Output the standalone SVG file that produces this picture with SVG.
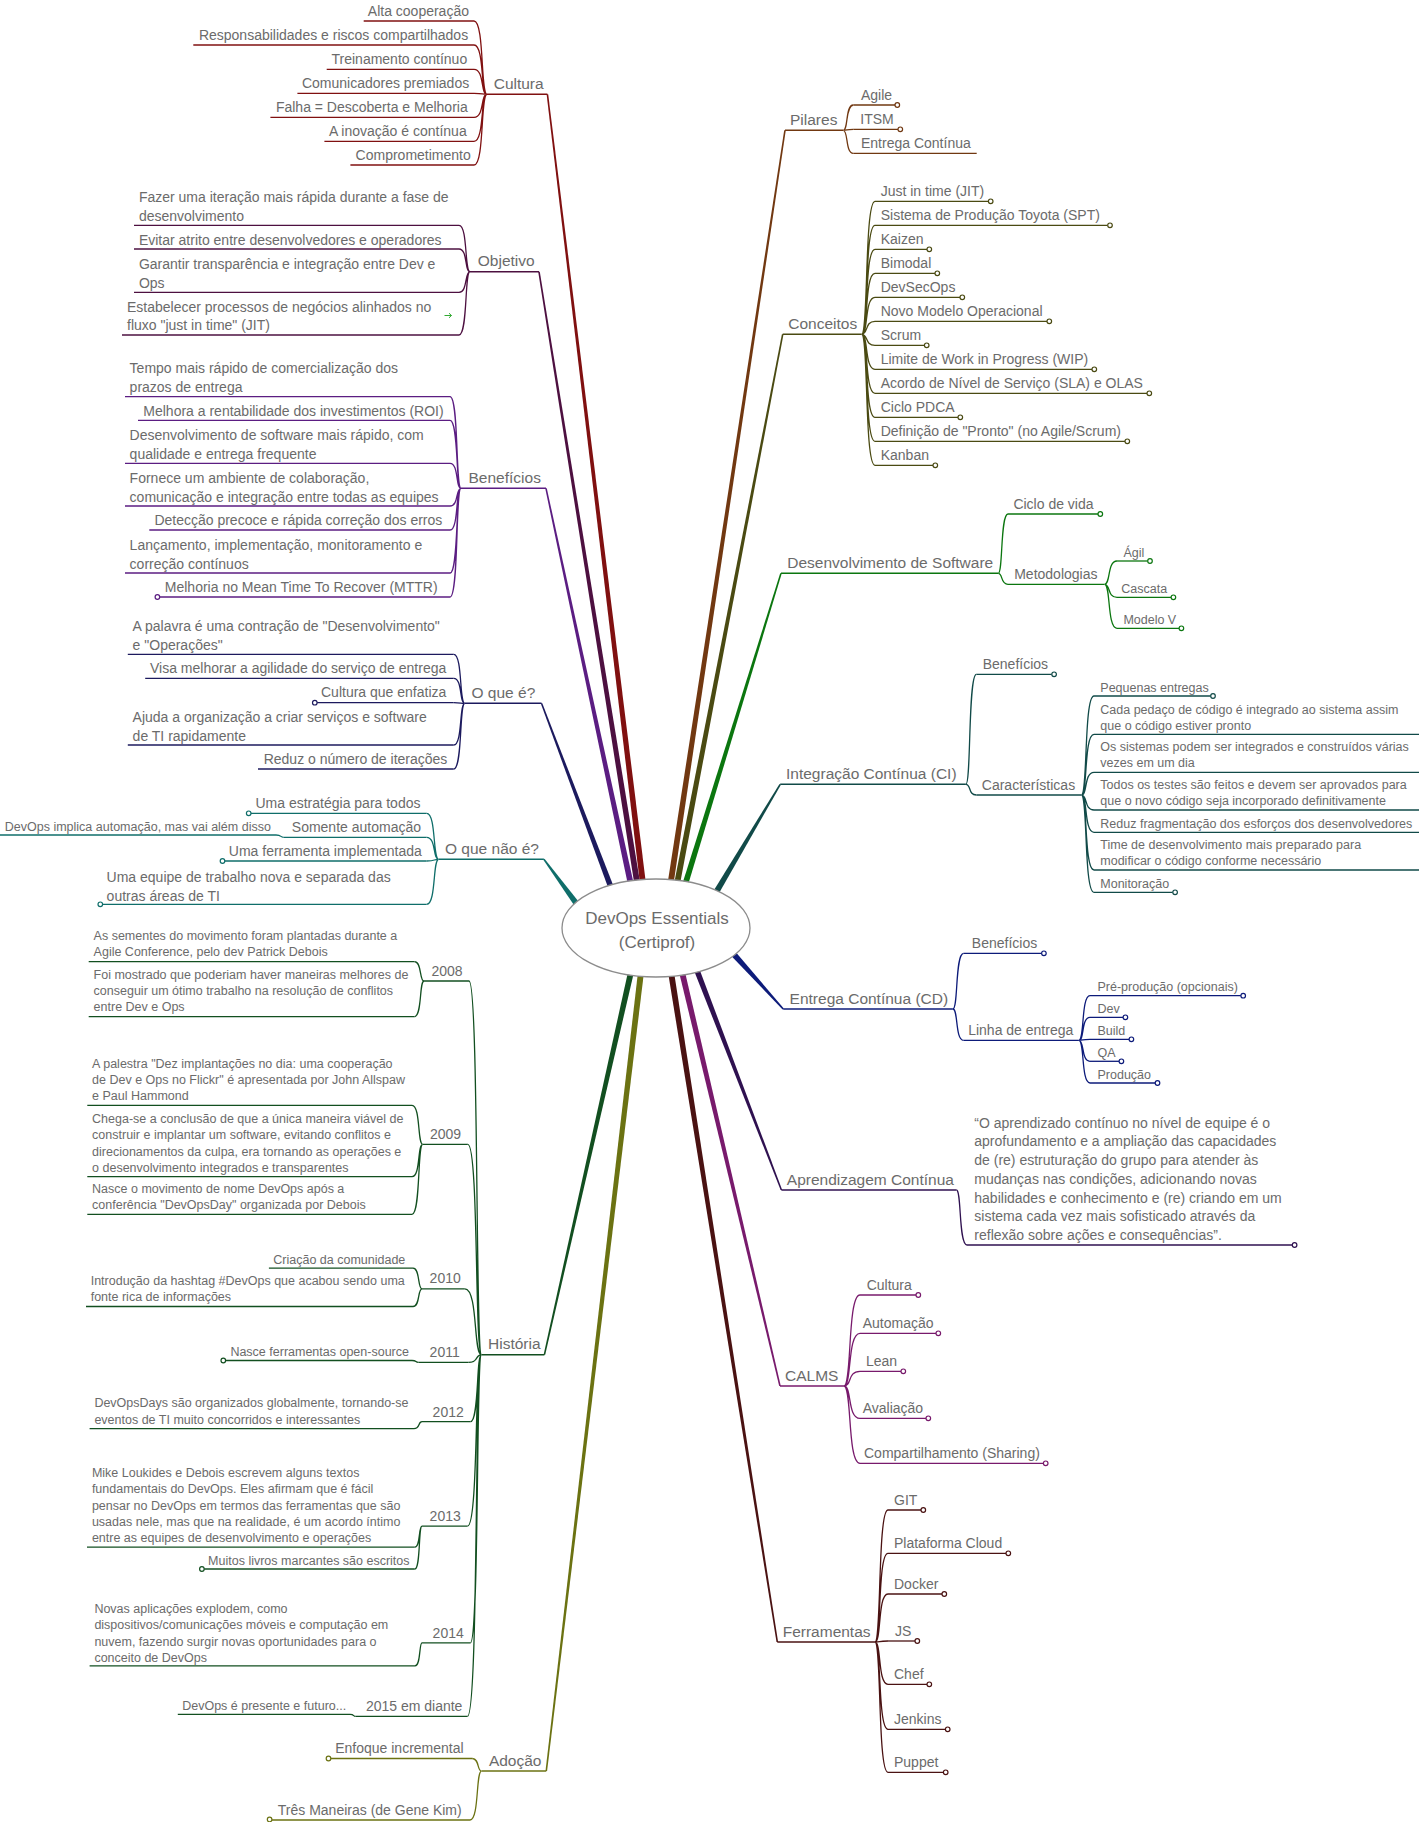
<svg xmlns="http://www.w3.org/2000/svg" width="1419" height="1822" viewBox="0 0 1419 1822">
<style>
text{font-family:"Liberation Sans",Arial,sans-serif;fill:#6b6b6b}
.s{font-size:14px}.x{font-size:12.5px}.m{font-size:15.5px}.c{font-size:17px}
.l{fill:none;stroke:currentColor;stroke-width:1.3}
.u{fill:none;stroke:currentColor;stroke-width:1.5}
.tp{fill:currentColor;stroke:none}
circle.d{fill:#fff;stroke:currentColor;stroke-width:1.2}
.k1{color:#801010}.k2{color:#4d1040}.k3{color:#5b1d82}.k4{color:#1c1a5e}.k5{color:#0f6e6a}
.k6{color:#124f20}.k7{color:#6b7212}.k8{color:#713811}.k9{color:#4a4a12}.k10{color:#0b760f}
.k11{color:#114a48}.k12{color:#0d1b7a}.k13{color:#2f1150}.k14{color:#781a6c}.k15{color:#4a1212}
</style>
<rect width="1419" height="1822" fill="#fff"/>
<g id="connectors">
 <g class="k1">
  <path class="tp" d="M646 884L548.2 94.3L546.6 94.3L640 884Z"/>
  <path class="l" d="M487 94.3C480.5 94.3 484.4 21 474 21M487 94.3C480.5 94.3 484.4 45 474 45M487 94.3C480.5 94.3 484.4 69.3 474 69.3M487 94.3C480.5 94.3 484.4 93.3 474 93.3M487 94.3C480.5 94.3 484.4 117.3 474 117.3M487 94.3C480.5 94.3 484.4 141.3 474 141.3M487 94.3C480.5 94.3 484.4 165 474 165"/>
 </g>
 <g class="k2">
  <path class="tp" d="M640.5 885L539.8 271.7L538.2 271.7L634.5 885Z"/>
  <path class="l" d="M470 271.7C464.5 271.7 467.8 225.3 459 225.3M470 271.7C464.5 271.7 467.8 249 459 249M470 271.7C464.5 271.7 467.8 292.3 459 292.3M470 271.7C464.5 271.7 467.8 335 459 335"/>
 </g>
 <g class="k3">
  <path class="tp" d="M634 885L546.8 488.3L545.2 488.3L628 885Z"/>
  <path class="l" d="M461 488.3C455.5 488.3 458.8 396.7 450 396.7M461 488.3C455.5 488.3 458.8 420.3 450 420.3M461 488.3C455.5 488.3 458.8 463.3 450 463.3M461 488.3C455.5 488.3 458.8 506 450 506M461 488.3C455.5 488.3 458.8 530 450 530M461 488.3C455.5 488.3 458.8 573 450 573M461 488.3C455.5 488.3 458.8 597 450 597"/>
 </g>
 <g class="k4">
  <path class="tp" d="M615 890L542.3 703.3L540.7 703.3L609 890Z"/>
  <path class="l" d="M464.8 703.3C459.2 703.3 462.6 654.3 453.7 654.3M464.8 703.3C459.2 703.3 462.6 678.3 453.7 678.3M464.8 703.3C459.2 703.3 462.6 702.7 453.7 702.7M464.8 703.3C459.2 703.3 462.6 745 453.7 745M464.8 703.3C459.2 703.3 462.6 769 453.7 769"/>
 </g>
 <g class="k5">
  <path class="tp" d="M579.9 903.2L544.5 858.8L543.3 859.8L575.1 906.8Z"/>
  <path class="l" d="M438.7 859.3C432.6 859.3 436.3 813.3 426.6 813.3M438.7 859.3C432.6 859.3 436.3 837.3 426.6 837.3M438.7 859.3C432.6 859.3 436.3 861 426.6 861M438.7 859.3C432.6 859.3 436.3 904.3 426.6 904.3M283.6 837.3C280 837.3 282 835 276 835"/>
 </g>
 <g class="k6">
  <path class="tp" d="M634 972L545.2 1354.7L543.6 1354.7L628 972Z"/>
  <path class="l" d="M481.5 1354.7C475.3 1354.7 479 981 469 981M481.5 1354.7C474.7 1354.7 478.8 1144.3 467.8 1144.3M481.5 1354.7C473.2 1354.7 478.2 1288.9 464.8 1288.9M481.5 1354.7C475 1354.7 478.9 1362.4 468.5 1362.4M481.5 1354.7C476 1354.7 479.3 1421.7 470.4 1421.7M481.5 1354.7C474.5 1354.7 478.7 1526.2 467.4 1526.2M481.5 1354.7C476 1354.7 479.3 1642.9 470.4 1642.9M481.5 1354.7C474.5 1354.7 478.7 1716.4 467.4 1716.4"/>
  <path class="l" d="M424 981C419.2 981 422.1 961.7 414.4 961.7M424 981C419.2 981 422.1 1016.7 414.4 1016.7M422.7 1144.3C417.4 1144.3 420.6 1105.3 412 1105.3M422.7 1144.3C417.4 1144.3 420.6 1176.7 412 1176.7M422.7 1144.3C417.4 1144.3 420.6 1214.3 412 1214.3M422 1288.9C417.5 1288.9 420.2 1268.2 413 1268.2M422 1288.9C417.5 1288.9 420.2 1306.5 413 1306.5M418.5 1362.4C415 1362.4 417 1360.5 412 1360.5M422 1421.7C418 1421.7 420 1428.6 414 1428.6M422 1526.2C418.4 1526.2 420.6 1547.2 414.8 1547.2M422 1526.2C418.4 1526.2 420.6 1569 414.8 1569M422 1642.9C419 1642.9 420.9 1665.8 415 1665.8M355.6 1716.4C353 1716.4 354.5 1714.4 350 1714.4"/>
 </g>
 <g class="k7">
  <path class="tp" d="M644 972L547.1 1771.1L545.5 1771.1L638 972Z"/>
  <path class="l" d="M481.5 1771.1C476.9 1771.1 479.6 1758.5 472.2 1758.5M481.5 1771.1C475.8 1771.1 479.2 1820 470 1820"/>
 </g>
 <g class="k8">
  <path class="tp" d="M673.5 884L785.8 130.3L784.2 130.3L667.5 884Z"/>
  <path class="l" d="M843.3 130.3C848.3 130.3 845.3 105 853.3 105M843.3 130.3C848.3 130.3 845.3 129.3 853.3 129.3M843.3 130.3C848.3 130.3 845.3 153.3 853.3 153.3"/>
 </g>
 <g class="k9">
  <path class="tp" d="M680 884L783.5 334.3L781.9 334.3L674 884Z"/>
  <path class="l" d="M861.7 334.3C868.4 334.3 864.4 201.3 875 201.3M861.7 334.3C868.4 334.3 864.4 225.3 875 225.3M861.7 334.3C868.4 334.3 864.4 249.3 875 249.3M861.7 334.3C868.4 334.3 864.4 273.3 875 273.3M861.7 334.3C868.4 334.3 864.4 297.3 875 297.3M861.7 334.3C868.4 334.3 864.4 321.3 875 321.3M861.7 334.3C868.4 334.3 864.4 345.3 875 345.3M861.7 334.3C868.4 334.3 864.4 369.3 875 369.3M861.7 334.3C868.4 334.3 864.4 393.3 875 393.3M861.7 334.3C868.4 334.3 864.4 417.3 875 417.3M861.7 334.3C868.4 334.3 864.4 441.3 875 441.3M861.7 334.3C868.4 334.3 864.4 465.3 875 465.3"/>
 </g>
 <g class="k10">
  <path class="tp" d="M688 885L781.8 573.3L780.2 573.3L682 885Z"/>
  <path class="l" d="M998.2 573.3C1003.1 573.3 1000.2 514 1008 514M998.2 573.3C1003.1 573.3 1000.2 584.3 1008 584.3M1104.5 584.3C1110.8 584.3 1107 561 1117 561M1104.5 584.3C1110.8 584.3 1107 597.3 1117 597.3M1104.5 584.3C1110.8 584.3 1107 628.3 1117 628.3"/>
 </g>
 <g class="k11">
  <path class="tp" d="M717.4 896.1L780.9 784.7L779.5 783.9L712.2 893.1Z"/>
  <path class="l" d="M965.9 784.3C971.2 784.3 968 674.3 976.4 674.3M965.9 784.3C971.2 784.3 968 795 976.4 795M1081.4 795C1087.7 795 1083.9 696 1094 696M1081.4 795C1087.7 795 1083.9 734.3 1094 734.3M1081.4 795C1087.7 795 1083.9 772.3 1094 772.3M1081.4 795C1087.7 795 1083.9 810 1094 810M1081.4 795C1087.7 795 1083.9 832.3 1094 832.3M1081.4 795C1087.7 795 1083.9 870 1094 870M1081.4 795C1087.7 795 1083.9 892.3 1094 892.3"/>
 </g>
 <g class="k12">
  <path class="tp" d="M730.4 955.1L782.6 1009.5L783.8 1008.5L734.8 951.1Z"/>
  <path class="l" d="M952.9 1009C958.3 1009 955 953.3 963.6 953.3M952.9 1009C958.3 1009 955 1040.3 963.6 1040.3M1078.9 1040.3C1084.5 1040.3 1081.1 995.7 1090 995.7M1078.9 1040.3C1084.5 1040.3 1081.1 1017.3 1090 1017.3M1078.9 1040.3C1084.5 1040.3 1081.1 1039.3 1090 1039.3M1078.9 1040.3C1084.5 1040.3 1081.1 1061.3 1090 1061.3M1078.9 1040.3C1084.5 1040.3 1081.1 1083 1090 1083"/>
 </g>
 <g class="k13">
  <path class="tp" d="M699 968L782.2 1190L780.6 1190L693 968Z"/>
  <path class="l" d="M956.4 1190C961.7 1190 958.5 1245 967 1245"/>
 </g>
 <g class="k14">
  <path class="tp" d="M685 972L780.8 1386L779.2 1386L679 972Z"/>
  <path class="l" d="M844 1386C852 1386 847.2 1295 860 1295M844 1386C852 1386 847.2 1333.3 860 1333.3M844 1386C852 1386 847.2 1371.3 860 1371.3M844 1386C852 1386 847.2 1418.3 860 1418.3M844 1386C852 1386 847.2 1463.3 860 1463.3"/>
 </g>
 <g class="k15">
  <path class="tp" d="M674 972L778.1 1642L776.5 1642L668 972Z"/>
  <path class="l" d="M875 1642C881.5 1642 877.6 1510 888 1510M875 1642C881.5 1642 877.6 1553.3 888 1553.3M875 1642C881.5 1642 877.6 1594 888 1594M875 1642C881.5 1642 877.6 1641 888 1641M875 1642C881.5 1642 877.6 1684.3 888 1684.3M875 1642C881.5 1642 877.6 1729.3 888 1729.3M875 1642C881.5 1642 877.6 1772.3 888 1772.3"/>
 </g>
</g>

<!-- Cultura -->
<g id="cultura" class="k1"><path class="u" d="M487 94.3H547.4"/><text class="m" x="493.7" y="89">Cultura</text></g>
<g id="cultura-1" class="k1"><path class="l" d="M474 21H363.7"/><text class="s" x="367.8" y="16">Alta cooperação</text></g>
<g id="cultura-2" class="k1"><path class="l" d="M474 45H193.3"/><text class="s" x="198.9" y="40">Responsabilidades e riscos compartilhados</text></g>
<g id="cultura-3" class="k1"><path class="l" d="M474 69.3H326.7"/><text class="s" x="331.5" y="64.3">Treinamento contínuo</text></g>
<g id="cultura-4" class="k1"><path class="l" d="M474 93.3H297.4"/><text class="s" x="301.9" y="88.3">Comunicadores premiados</text></g>
<g id="cultura-5" class="k1"><path class="l" d="M474 117.3H270.4"/><text class="s" x="275.9" y="112.3">Falha = Descoberta e Melhoria</text></g>
<g id="cultura-6" class="k1"><path class="l" d="M474 141.3H324.4"/><text class="s" x="328.9" y="136.3">A inovação é contínua</text></g>
<g id="cultura-7" class="k1"><path class="l" d="M474 165H350.4"/><text class="s" x="355.6" y="160">Comprometimento</text></g>

<!-- Objetivo -->
<g id="objetivo" class="k2"><path class="u" d="M470 271.7H539"/><text class="m" x="477.8" y="266.2">Objetivo</text></g>
<g id="objetivo-1" class="k2"><path class="l" d="M459 225.3H134"/><text class="s" x="138.9" y="202.3">Fazer uma iteração mais rápida durante a fase de<tspan x="138.9" dy="18.7">desenvolvimento</tspan></text></g>
<g id="objetivo-2" class="k2"><path class="l" d="M459 249H134"/><text class="s" x="138.9" y="244.7">Evitar atrito entre desenvolvedores e operadores</text></g>
<g id="objetivo-3" class="k2"><path class="l" d="M459 292.3H134"/><text class="s" x="138.9" y="269.3">Garantir transparência e integração entre Dev e<tspan x="138.9" dy="18.7">Ops</tspan></text></g>
<g id="objetivo-4" class="k2"><path class="l" d="M459 335H122"/><text class="s" x="127" y="311.7">Estabelecer processos de negócios alinhados no<tspan x="127" dy="18.7">fluxo "just in time" (JIT)</tspan></text><path d="M444.5 315.5H451.5M449 313.2L451.5 315.5L449 317.8" fill="none" stroke="#33aa33" stroke-width="1"/></g>

<!-- Benefícios -->
<g id="beneficios" class="k3"><path class="u" d="M461 488.3H546"/><text class="m" x="468.5" y="482.8">Benefícios</text></g>
<g id="beneficios-1" class="k3"><path class="l" d="M450 396.7H125"/><text class="s" x="129.6" y="373.3">Tempo mais rápido de comercialização dos<tspan x="129.6" dy="19">prazos de entrega</tspan></text></g>
<g id="beneficios-2" class="k3"><path class="l" d="M450 420.3H138"/><text class="s" x="143.3" y="415.7">Melhora a rentabilidade dos investimentos (ROI)</text></g>
<g id="beneficios-3" class="k3"><path class="l" d="M450 463.3H125"/><text class="s" x="129.6" y="440.3">Desenvolvimento de software mais rápido, com<tspan x="129.6" dy="19">qualidade e entrega frequente</tspan></text></g>
<g id="beneficios-4" class="k3"><path class="l" d="M450 506H125"/><text class="s" x="129.6" y="483.3">Fornece um ambiente de colaboração,<tspan x="129.6" dy="18.7">comunicação e integração entre todas as equipes</tspan></text></g>
<g id="beneficios-5" class="k3"><path class="l" d="M450 530H149.3"/><text class="s" x="154.4" y="525.3">Detecção precoce e rápida correção dos erros</text></g>
<g id="beneficios-6" class="k3"><path class="l" d="M450 573H125"/><text class="s" x="129.6" y="550">Lançamento, implementação, monitoramento e<tspan x="129.6" dy="19">correção contínuos</tspan></text></g>
<g id="beneficios-7" class="k3"><path class="l" d="M450 597H159.7"/><circle class="d" cx="157.4" cy="597" r="2.3"/><text class="s" x="164.8" y="592.3">Melhoria no Mean Time To Recover (MTTR)</text></g>

<!-- O que é? -->
<g id="oque" class="k4"><path class="u" d="M464.8 703.3H541.5"/><text class="m" x="471.5" y="697.8">O que é?</text></g>
<g id="oque-1" class="k4"><path class="l" d="M453.7 654.3H127.8"/><text class="s" x="132.6" y="631.3">A palavra é uma contração de "Desenvolvimento"<tspan x="132.6" dy="18.7">e "Operações"</tspan></text></g>
<g id="oque-2" class="k4"><path class="l" d="M453.7 678.3H145.2"/><text class="s" x="150" y="673.3">Visa melhorar a agilidade do serviço de entrega</text></g>
<g id="oque-3" class="k4"><path class="l" d="M453.7 702.7H317.1"/><circle class="d" cx="314.8" cy="702.7" r="2.3"/><text class="s" x="321" y="697.3">Cultura que enfatiza</text></g>
<g id="oque-4" class="k4"><path class="l" d="M453.7 745H127.8"/><text class="s" x="132.6" y="721.7">Ajuda a organização a criar serviços e software<tspan x="132.6" dy="19.3">de TI rapidamente</tspan></text></g>
<g id="oque-5" class="k4"><path class="l" d="M453.7 769H258"/><text class="s" x="263.7" y="764">Reduz o número de iterações</text></g>

<!-- O que não é? -->
<g id="naoe" class="k5"><path class="u" d="M438.7 859.3H543.9"/><text class="m" x="445" y="853.8">O que não é?</text></g>
<g id="naoe-1" class="k5"><path class="l" d="M426.6 813.3H251"/><circle class="d" cx="248.7" cy="813.3" r="2.3"/><text class="s" x="255.5" y="808.3">Uma estratégia para todos</text></g>
<g id="naoe-2" class="k5"><path class="l" d="M426.6 837.3H283.6"/><text class="s" x="291.8" y="832.3">Somente automação</text></g>
<g id="naoe-2-1" class="k5"><path class="l" d="M276 835H0"/><text class="x" x="4.8" y="831">DevOps implica automação, mas vai além disso</text></g>
<g id="naoe-3" class="k5"><path class="l" d="M426.6 861H224.8"/><circle class="d" cx="222.5" cy="861" r="2.3"/><text class="s" x="228.8" y="856">Uma ferramenta implementada</text></g>
<g id="naoe-4" class="k5"><path class="l" d="M426.6 904.3H102.6"/><circle class="d" cx="100.3" cy="904.3" r="2.3"/><text class="s" x="106.6" y="881.7">Uma equipe de trabalho nova e separada das<tspan x="106.6" dy="19">outras áreas de TI</tspan></text></g>

<!-- História -->
<g id="historia" class="k6"><path class="u" d="M481.5 1354.7H544.4"/><text class="m" x="488" y="1349.2">História</text></g>
<g id="h2008" class="k6"><path class="l" d="M469 981H424"/><text class="s" x="431.4" y="976">2008</text></g>
<g id="h2008-1" class="k6"><path class="l" d="M414.4 961.7H88.7"/><text class="x" x="93.6" y="940.2">As sementes do movimento foram plantadas durante a<tspan x="93.6" dy="16">Agile Conference, pelo dev Patrick Debois</tspan></text></g>
<g id="h2008-2" class="k6"><path class="l" d="M414.4 1016.7H88.7"/><text class="x" x="93.6" y="978.8">Foi mostrado que poderiam haver maneiras melhores de<tspan x="93.6" dy="16.2">conseguir um ótimo trabalho na resolução de conflitos</tspan><tspan x="93.6" dy="16.2">entre Dev e Ops</tspan></text></g>
<g id="h2009" class="k6"><path class="l" d="M467.8 1144.3H422.7"/><text class="s" x="430" y="1139.3">2009</text></g>
<g id="h2009-1" class="k6"><path class="l" d="M412 1105.3H87.3"/><text class="x" x="92.1" y="1068.2">A palestra "Dez implantações no dia: uma cooperação<tspan x="92.1" dy="16">de Dev e Ops no Flickr" é apresentada por John Allspaw</tspan><tspan x="92.1" dy="16">e Paul Hammond</tspan></text></g>
<g id="h2009-2" class="k6"><path class="l" d="M412 1176.7H87.3"/><text class="x" x="92.1" y="1123.2">Chega-se a conclusão de que a única maneira viável de<tspan x="92.1" dy="16.2">construir e implantar um software, evitando conflitos e</tspan><tspan x="92.1" dy="16.2">direcionamentos da culpa, era tornando as operações e</tspan><tspan x="92.1" dy="16.2">o desenvolvimento integrados e transparentes</tspan></text></g>
<g id="h2009-3" class="k6"><path class="l" d="M412 1214.3H87.3"/><text class="x" x="92.1" y="1192.8">Nasce o movimento de nome DevOps após a<tspan x="92.1" dy="16">conferência "DevOpsDay" organizada por Debois</tspan></text></g>
<g id="h2010" class="k6"><path class="l" d="M464.8 1288.9H422"/><text class="s" x="429.6" y="1283.4">2010</text></g>
<g id="h2010-1" class="k6"><path class="l" d="M413 1268.2H268.9"/><text class="x" x="273.3" y="1263.9">Criação da comunidade</text></g>
<g id="h2010-2" class="k6"><path class="l" d="M413 1306.5H86"/><text class="x" x="90.7" y="1285">Introdução da hashtag #DevOps que acabou sendo uma<tspan x="90.7" dy="16">fonte rica de informações</tspan></text></g>
<g id="h2011" class="k6"><path class="l" d="M468.5 1362.4H418.5"/><text class="s" x="429.6" y="1357">2011</text></g>
<g id="h2011-1" class="k6"><path class="l" d="M412 1360.5H225.6"/><circle class="d" cx="223.3" cy="1360.5" r="2.3"/><text class="x" x="230.4" y="1356.1">Nasce ferramentas open-source</text></g>
<g id="h2012" class="k6"><path class="l" d="M470.4 1421.7H422"/><text class="s" x="432.6" y="1416.6">2012</text></g>
<g id="h2012-1" class="k6"><path class="l" d="M414 1428.6H89.6"/><text class="x" x="94.4" y="1407">DevOpsDays são organizados globalmente, tornando-se<tspan x="94.4" dy="16.5">eventos de TI muito concorridos e interessantes</tspan></text></g>
<g id="h2013" class="k6"><path class="l" d="M467.4 1526.2H422"/><text class="s" x="429.6" y="1521">2013</text></g>
<g id="h2013-1" class="k6"><path class="l" d="M414.8 1547.2H87"/><text class="x" x="91.9" y="1477.1">Mike Loukides e Debois escrevem alguns textos<tspan x="91.9" dy="16.25">fundamentais do DevOps. Eles afirmam que é fácil</tspan><tspan x="91.9" dy="16.25">pensar no DevOps em termos das ferramentas que são</tspan><tspan x="91.9" dy="16.25">usadas nele, mas que na realidade, é um acordo íntimo</tspan><tspan x="91.9" dy="16.25">entre as equipes de desenvolvimento e operações</tspan></text></g>
<g id="h2013-2" class="k6"><path class="l" d="M414.8 1569H204.2"/><circle class="d" cx="201.9" cy="1569" r="2.3"/><text class="x" x="208.1" y="1565">Muitos livros marcantes são escritos</text></g>
<g id="h2014" class="k6"><path class="l" d="M470.4 1642.9H422"/><text class="s" x="432.6" y="1638">2014</text></g>
<g id="h2014-1" class="k6"><path class="l" d="M415 1665.8H89.6"/><text class="x" x="94.4" y="1612.9">Novas aplicações explodem, como<tspan x="94.4" dy="16.3">dispositivos/comunicações móveis e computação em</tspan><tspan x="94.4" dy="16.3">nuvem, fazendo surgir novas oportunidades para o</tspan><tspan x="94.4" dy="16.3">conceito de DevOps</tspan></text></g>
<g id="h2015" class="k6"><path class="l" d="M467.4 1716.4H355.6"/><text class="s" x="365.9" y="1711">2015 em diante</text></g>
<g id="h2015-1" class="k6"><path class="l" d="M350 1714.4H177.8"/><text class="x" x="182.2" y="1709.8">DevOps é presente e futuro...</text></g>

<!-- Adoção -->
<g id="adocao" class="k7"><path class="u" d="M481.5 1771.1H546.3"/><text class="m" x="488.9" y="1765.6">Adoção</text></g>
<g id="adocao-1" class="k7"><path class="l" d="M472.2 1758.5H330.8"/><circle class="d" cx="328.5" cy="1758.5" r="2.3"/><text class="s" x="335.2" y="1753.3">Enfoque incremental</text></g>
<g id="adocao-2" class="k7"><path class="l" d="M470 1820H271.9"/><circle class="d" cx="269.6" cy="1819.5" r="2.3"/><text class="s" x="277.8" y="1815">Três Maneiras (de Gene Kim)</text></g>

<!-- Pilares -->
<g id="pilares" class="k8"><path class="u" d="M785 130.3H843.3"/><text class="m" x="790" y="125">Pilares</text></g>
<g id="pilares-1" class="k8"><path class="l" d="M853.3 105H895"/><circle class="d" cx="897.3" cy="105" r="2.3"/><text class="s" x="861" y="100">Agile</text></g>
<g id="pilares-2" class="k8"><path class="l" d="M853.3 129.3H898"/><circle class="d" cx="900.3" cy="129.3" r="2.3"/><text class="s" x="860.3" y="124.3">ITSM</text></g>
<g id="pilares-3" class="k8"><path class="l" d="M853.3 153.3H976.7"/><text class="s" x="861" y="148.3">Entrega Contínua</text></g>

<!-- Conceitos -->
<g id="conceitos" class="k9"><path class="u" d="M782.7 334.3H861.7"/><text class="m" x="788.3" y="328.8">Conceitos</text></g>
<g id="conceitos-1" class="k9"><path class="l" d="M875 201.3H988.4"/><circle class="d" cx="990.7" cy="201.3" r="2.3"/><text class="s" x="880.7" y="196">Just in time (JIT)</text></g>
<g id="conceitos-2" class="k9"><path class="l" d="M875 225.3H1107.7"/><circle class="d" cx="1110" cy="225.3" r="2.3"/><text class="s" x="880.7" y="220">Sistema de Produção Toyota (SPT)</text></g>
<g id="conceitos-3" class="k9"><path class="l" d="M875 249.3H927"/><circle class="d" cx="929.3" cy="249.3" r="2.3"/><text class="s" x="880.7" y="244">Kaizen</text></g>
<g id="conceitos-4" class="k9"><path class="l" d="M875 273.3H935"/><circle class="d" cx="937.3" cy="273.3" r="2.3"/><text class="s" x="880.7" y="268">Bimodal</text></g>
<g id="conceitos-5" class="k9"><path class="l" d="M875 297.3H960"/><circle class="d" cx="962.3" cy="297.3" r="2.3"/><text class="s" x="880.7" y="292">DevSecOps</text></g>
<g id="conceitos-6" class="k9"><path class="l" d="M875 321.3H1047"/><circle class="d" cx="1049.3" cy="321.3" r="2.3"/><text class="s" x="880.7" y="316">Novo Modelo Operacional</text></g>
<g id="conceitos-7" class="k9"><path class="l" d="M875 345.3H924.4"/><circle class="d" cx="926.7" cy="345.3" r="2.3"/><text class="s" x="880.7" y="340">Scrum</text></g>
<g id="conceitos-8" class="k9"><path class="l" d="M875 369.3H1092"/><circle class="d" cx="1094.3" cy="369.3" r="2.3"/><text class="s" x="880.7" y="364">Limite de Work in Progress (WIP)</text></g>
<g id="conceitos-9" class="k9"><path class="l" d="M875 393.3H1147"/><circle class="d" cx="1149.3" cy="393.3" r="2.3"/><text class="s" x="880.7" y="388">Acordo de Nível de Serviço (SLA) e OLAS</text></g>
<g id="conceitos-10" class="k9"><path class="l" d="M875 417.3H958"/><circle class="d" cx="960.3" cy="417.3" r="2.3"/><text class="s" x="880.7" y="412">Ciclo PDCA</text></g>
<g id="conceitos-11" class="k9"><path class="l" d="M875 441.3H1125"/><circle class="d" cx="1127.3" cy="441.3" r="2.3"/><text class="s" x="880.7" y="436">Definição de "Pronto" (no Agile/Scrum)</text></g>
<g id="conceitos-12" class="k9"><path class="l" d="M875 465.3H933"/><circle class="d" cx="935.3" cy="465.3" r="2.3"/><text class="s" x="880.7" y="460">Kanban</text></g>

<!-- Desenvolvimento de Software -->
<g id="devsw" class="k10"><path class="u" d="M781 573.3H998.2"/><text class="m" x="787.3" y="567.8">Desenvolvimento de Software</text></g>
<g id="devsw-1" class="k10"><path class="l" d="M1008 514H1098"/><circle class="d" cx="1100.3" cy="514" r="2.3"/><text class="s" x="1013.4" y="509">Ciclo de vida</text></g>
<g id="devsw-2" class="k10"><path class="l" d="M1008 584.3H1104.5"/><text class="s" x="1014.2" y="579.3">Metodologias</text></g>
<g id="devsw-2-1" class="k10"><path class="l" d="M1117 561H1147.7"/><circle class="d" cx="1150" cy="561" r="2.3"/><text class="x" x="1123.4" y="556.8">Ágil</text></g>
<g id="devsw-2-2" class="k10"><path class="l" d="M1117 597.3H1171.1"/><circle class="d" cx="1173.4" cy="597.3" r="2.3"/><text class="x" x="1121.3" y="593">Cascata</text></g>
<g id="devsw-2-3" class="k10"><path class="l" d="M1117 628.3H1179.1"/><circle class="d" cx="1181.4" cy="628.3" r="2.3"/><text class="x" x="1123.4" y="624">Modelo V</text></g>

<!-- Integração Contínua -->
<g id="ci" class="k11"><path class="u" d="M780.2 784.3H965.9"/><text class="m" x="786" y="778.8">Integração Contínua (CI)</text></g>
<g id="ci-1" class="k11"><path class="l" d="M976.4 674.3H1051.8"/><circle class="d" cx="1054.1" cy="674.3" r="2.3"/><text class="s" x="982.7" y="669">Benefícios</text></g>
<g id="ci-2" class="k11"><path class="l" d="M976.4 795H1081.4"/><text class="s" x="981.8" y="790">Características</text></g>
<g id="ci-2-1" class="k11"><path class="l" d="M1094 696H1210.7"/><circle class="d" cx="1213" cy="696" r="2.3"/><text class="x" x="1100.3" y="692">Pequenas entregas</text></g>
<g id="ci-2-2" class="k11"><path class="l" d="M1094 734.3H1419"/><text class="x" x="1100.3" y="713.8">Cada pedaço de código é integrado ao sistema assim<tspan x="1100.3" dy="15.8">que o código estiver pronto</tspan></text></g>
<g id="ci-2-3" class="k11"><path class="l" d="M1094 772.3H1419"/><text class="x" x="1100.3" y="751.4">Os sistemas podem ser integrados e construídos várias<tspan x="1100.3" dy="15.8">vezes em um dia</tspan></text></g>
<g id="ci-2-4" class="k11"><path class="l" d="M1094 810H1419"/><text class="x" x="1100.3" y="789.4">Todos os testes são feitos e devem ser aprovados para<tspan x="1100.3" dy="15.8">que o novo código seja incorporado definitivamente</tspan></text></g>
<g id="ci-2-5" class="k11"><path class="l" d="M1094 832.3H1419"/><text class="x" x="1100.3" y="827.8">Reduz fragmentação dos esforços dos desenvolvedores</text></g>
<g id="ci-2-6" class="k11"><path class="l" d="M1094 870H1419"/><text class="x" x="1100.3" y="849.4">Time de desenvolvimento mais preparado para<tspan x="1100.3" dy="15.8">modificar o código conforme necessário</tspan></text></g>
<g id="ci-2-7" class="k11"><path class="l" d="M1094 892.3H1172.8"/><circle class="d" cx="1175.1" cy="892.3" r="2.3"/><text class="x" x="1100.3" y="887.8">Monitoração</text></g>

<!-- Entrega Contínua -->
<g id="cd" class="k12"><path class="u" d="M783.2 1009H952.9"/><text class="m" x="789.6" y="1003.5">Entrega Contínua (CD)</text></g>
<g id="cd-1" class="k12"><path class="l" d="M963.6 953.3H1041.6"/><circle class="d" cx="1043.9" cy="953.3" r="2.3"/><text class="s" x="971.8" y="948.3">Benefícios</text></g>
<g id="cd-2" class="k12"><path class="l" d="M963.6 1040.3H1078.9"/><text class="s" x="968.2" y="1035.3">Linha de entrega</text></g>
<g id="cd-2-1" class="k12"><path class="l" d="M1090 995.7H1240.9"/><circle class="d" cx="1243.2" cy="995.7" r="2.3"/><text class="x" x="1097.5" y="991.2">Pré-produção (opcionais)</text></g>
<g id="cd-2-2" class="k12"><path class="l" d="M1090 1017.3H1123.1"/><circle class="d" cx="1125.4" cy="1017.3" r="2.3"/><text class="x" x="1097.5" y="1012.8">Dev</text></g>
<g id="cd-2-3" class="k12"><path class="l" d="M1090 1039.3H1129.1"/><circle class="d" cx="1131.4" cy="1039.3" r="2.3"/><text class="x" x="1097.5" y="1034.6">Build</text></g>
<g id="cd-2-4" class="k12"><path class="l" d="M1090 1061.3H1119.1"/><circle class="d" cx="1121.4" cy="1061.3" r="2.3"/><text class="x" x="1097.5" y="1057">QA</text></g>
<g id="cd-2-5" class="k12"><path class="l" d="M1090 1083H1155.2"/><circle class="d" cx="1157.5" cy="1083" r="2.3"/><text class="x" x="1097.5" y="1078.8">Produção</text></g>

<!-- Aprendizagem Contínua -->
<g id="aprend" class="k13"><path class="u" d="M781.4 1190H956.4"/><text class="m" x="786.8" y="1184.5">Aprendizagem Contínua</text></g>
<g id="aprend-1" class="k13"><path class="l" d="M967 1245H1292.3"/><circle class="d" cx="1294.6" cy="1245" r="2.3"/><text class="s" x="974.3" y="1127.7">“O aprendizado contínuo no nível de equipe é o<tspan x="974.3" dy="18.7">aprofundamento e a ampliação das capacidades</tspan><tspan x="974.3" dy="18.7">de (re) estruturação do grupo para atender às</tspan><tspan x="974.3" dy="18.7">mudanças nas condições, adicionando novas</tspan><tspan x="974.3" dy="18.7">habilidades e conhecimento e (re) criando em um</tspan><tspan x="974.3" dy="18.7">sistema cada vez mais sofisticado através da</tspan><tspan x="974.3" dy="18.7">reflexão sobre ações e consequências”.</tspan></text></g>

<!-- CALMS -->
<g id="calms" class="k14"><path class="u" d="M780 1386H844"/><text class="m" x="785" y="1380.5">CALMS</text></g>
<g id="calms-1" class="k14"><path class="l" d="M860 1295H916"/><circle class="d" cx="918.3" cy="1295" r="2.3"/><text class="s" x="866.7" y="1290">Cultura</text></g>
<g id="calms-2" class="k14"><path class="l" d="M860 1333.3H936"/><circle class="d" cx="938.3" cy="1333.3" r="2.3"/><text class="s" x="862.7" y="1328.3">Automação</text></g>
<g id="calms-3" class="k14"><path class="l" d="M860 1371.3H901"/><circle class="d" cx="903.3" cy="1371.3" r="2.3"/><text class="s" x="866" y="1366.3">Lean</text></g>
<g id="calms-4" class="k14"><path class="l" d="M860 1418.3H926"/><circle class="d" cx="928.3" cy="1418.3" r="2.3"/><text class="s" x="862.7" y="1413.3">Avaliação</text></g>
<g id="calms-5" class="k14"><path class="l" d="M860 1463.3H1043.4"/><circle class="d" cx="1045.7" cy="1463.3" r="2.3"/><text class="s" x="864" y="1458.3">Compartilhamento (Sharing)</text></g>

<!-- Ferramentas -->
<g id="ferramentas" class="k15"><path class="u" d="M777.3 1642H875"/><text class="m" x="782.7" y="1636.5">Ferramentas</text></g>
<g id="ferr-1" class="k15"><path class="l" d="M888 1510H921"/><circle class="d" cx="923.3" cy="1510" r="2.3"/><text class="s" x="894" y="1505">GIT</text></g>
<g id="ferr-2" class="k15"><path class="l" d="M888 1553.3H1006"/><circle class="d" cx="1008.3" cy="1553.3" r="2.3"/><text class="s" x="894" y="1548.3">Plataforma Cloud</text></g>
<g id="ferr-3" class="k15"><path class="l" d="M888 1594H942"/><circle class="d" cx="944.3" cy="1594" r="2.3"/><text class="s" x="894" y="1589">Docker</text></g>
<g id="ferr-4" class="k15"><path class="l" d="M888 1641H915"/><circle class="d" cx="917.3" cy="1641" r="2.3"/><text class="s" x="895" y="1636">JS</text></g>
<g id="ferr-5" class="k15"><path class="l" d="M888 1684.3H927"/><circle class="d" cx="929.3" cy="1684.3" r="2.3"/><text class="s" x="894" y="1679.3">Chef</text></g>
<g id="ferr-6" class="k15"><path class="l" d="M888 1729.3H945.4"/><circle class="d" cx="947.7" cy="1729.3" r="2.3"/><text class="s" x="894" y="1724.3">Jenkins</text></g>
<g id="ferr-7" class="k15"><path class="l" d="M888 1772.3H943.4"/><circle class="d" cx="945.7" cy="1772.3" r="2.3"/><text class="s" x="894" y="1767.3">Puppet</text></g>

<!-- Center -->
<g id="center"><ellipse cx="656" cy="928" rx="94" ry="49" fill="#fff" stroke="#8c8c8c" stroke-width="1.3"/><text class="c" x="657" y="924" text-anchor="middle">DevOps Essentials</text><text class="c" x="657" y="948" text-anchor="middle">(Certiprof)</text></g>
</svg>
